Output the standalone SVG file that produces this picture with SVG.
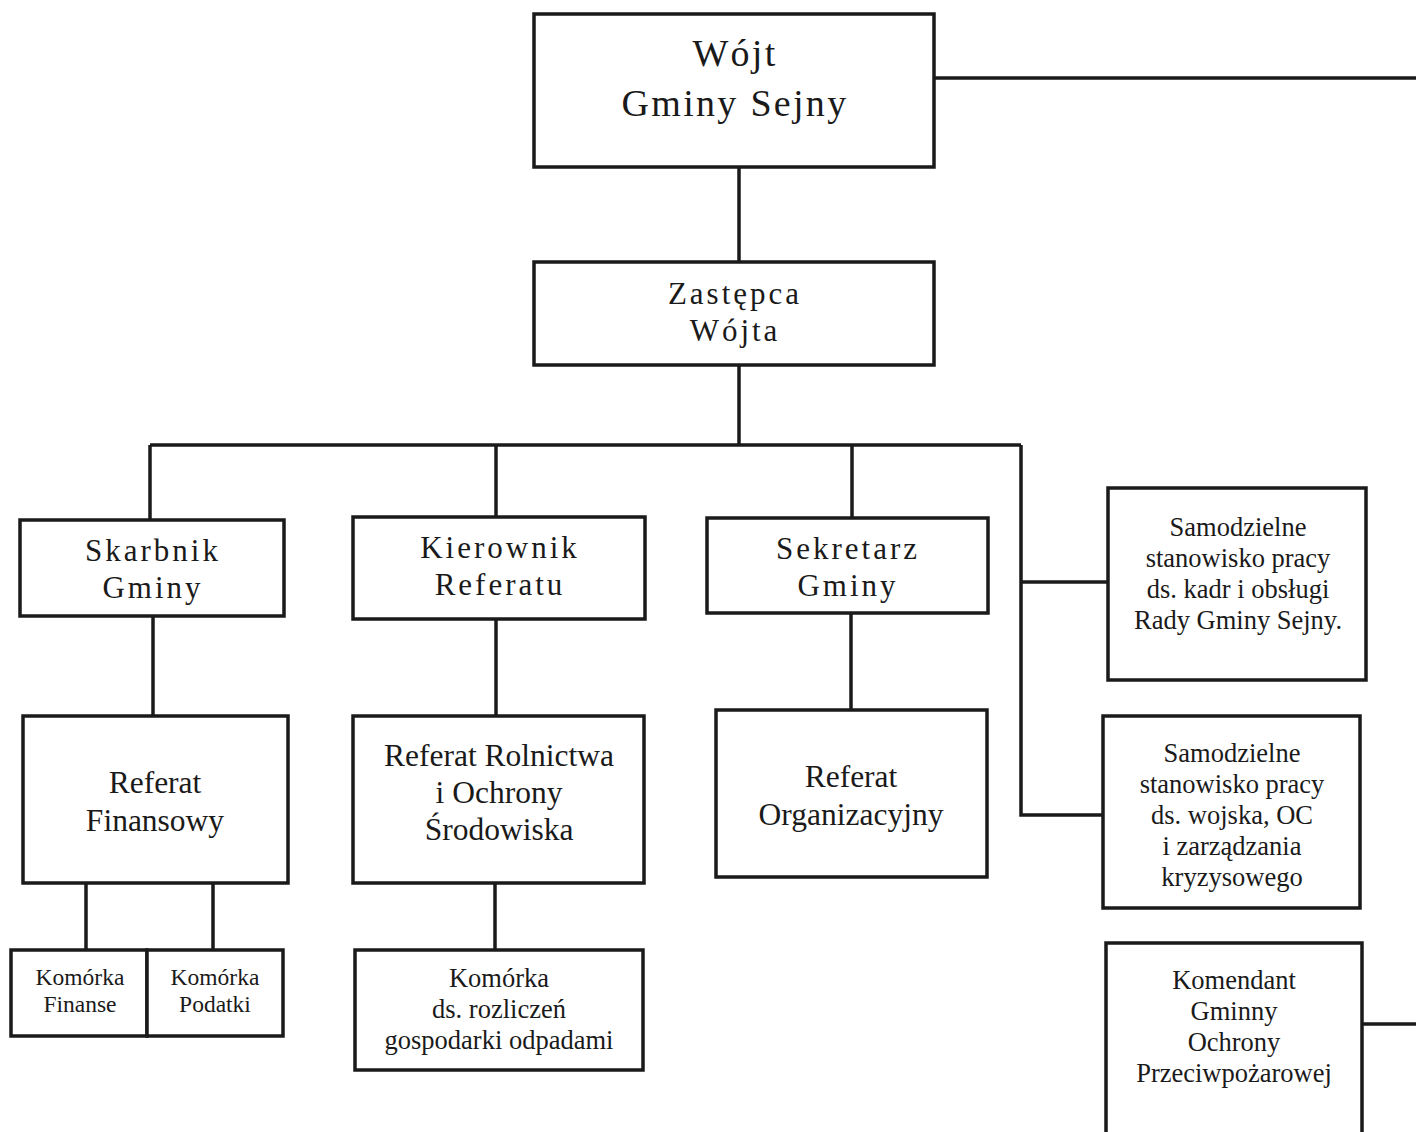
<svg xmlns="http://www.w3.org/2000/svg" width="1416" height="1132" viewBox="0 0 1416 1132">
<style>
.box{fill:#fff;stroke:#1a1a1a;stroke-width:3.5}
.ln{stroke:#1a1a1a;stroke-width:3.5;fill:none}
text{font-family:"Liberation Serif","Times New Roman",serif;fill:#1a1a1a;text-anchor:middle}
.big{font-size:38px;letter-spacing:2.3px}
.sp{font-size:31px;letter-spacing:3px}
.ref{font-size:31.5px}
.sm{font-size:26.5px}
.xs{font-size:23.5px}
</style>
<rect width="1416" height="1132" fill="#fff"/>
<g id="connectors">
<path class="ln" d="M934 78H1416"/>
<path class="ln" d="M739 167V262"/>
<path class="ln" d="M739 365V445"/>
<path class="ln" d="M150 445H1021"/>
<path class="ln" d="M150 445V520"/>
<path class="ln" d="M496 445V517"/>
<path class="ln" d="M852 445V518"/>
<path class="ln" d="M1021 445V815H1103"/>
<path class="ln" d="M1021 582H1108"/>
<path class="ln" d="M153 616V716"/>
<path class="ln" d="M496 619V716"/>
<path class="ln" d="M851 613V710"/>
<path class="ln" d="M86 883V950"/>
<path class="ln" d="M213 883V950"/>
<path class="ln" d="M495 883V950"/>
<path class="ln" d="M1362 1024H1416"/>
</g>
<g id="wojt">
<rect class="box" x="534" y="14" width="400" height="153"/>
<text class="big" x="735" y="66">Wójt</text>
<text class="big" x="735" y="116">Gminy Sejny</text>
</g>
<g id="zastepca">
<rect class="box" x="534" y="262" width="400" height="103"/>
<text class="sp" x="735" y="304">Zastępca</text>
<text class="sp" x="735" y="341">Wójta</text>
</g>
<g id="skarbnik">
<rect class="box" x="20" y="520" width="264" height="96"/>
<text class="sp" x="153" y="561">Skarbnik</text>
<text class="sp" x="153" y="598">Gminy</text>
</g>
<g id="kierownik">
<rect class="box" x="353" y="517" width="292" height="102"/>
<text class="sp" x="500" y="558">Kierownik</text>
<text class="sp" x="500" y="595">Referatu</text>
</g>
<g id="sekretarz">
<rect class="box" x="707" y="518" width="281" height="95"/>
<text class="sp" x="848" y="559">Sekretarz</text>
<text class="sp" x="848" y="596">Gminy</text>
</g>
<g id="stanowisko-kadr">
<rect class="box" x="1108" y="488" width="258" height="192"/>
<text class="sm" x="1238" y="536">Samodzielne</text>
<text class="sm" x="1238" y="567">stanowisko pracy</text>
<text class="sm" x="1238" y="598">ds. kadr i obsługi</text>
<text class="sm" x="1238" y="629">Rady Gminy Sejny.</text>
</g>
<g id="stanowisko-wojska">
<rect class="box" x="1103" y="716" width="257" height="192"/>
<text class="sm" x="1232" y="762">Samodzielne</text>
<text class="sm" x="1232" y="793">stanowisko pracy</text>
<text class="sm" x="1232" y="824">ds. wojska, OC</text>
<text class="sm" x="1232" y="855">i zarządzania</text>
<text class="sm" x="1232" y="886">kryzysowego</text>
</g>
<g id="komendant">
<rect class="box" x="1106" y="943" width="256" height="200"/>
<text class="sm" x="1234" y="989">Komendant</text>
<text class="sm" x="1234" y="1020">Gminny</text>
<text class="sm" x="1234" y="1051">Ochrony</text>
<text class="sm" x="1234" y="1082">Przeciwpożarowej</text>
</g>
<g id="referat-finansowy">
<rect class="box" x="23" y="716" width="265" height="167"/>
<text class="ref" x="155" y="793">Referat</text>
<text class="ref" x="155" y="831">Finansowy</text>
</g>
<g id="referat-rolnictwa">
<rect class="box" x="353" y="716" width="291" height="167"/>
<text class="ref" x="499" y="766">Referat Rolnictwa</text>
<text class="ref" x="499" y="803">i Ochrony</text>
<text class="ref" x="499" y="840">Środowiska</text>
</g>
<g id="referat-organizacyjny">
<rect class="box" x="716" y="710" width="271" height="167"/>
<text class="ref" x="851" y="787">Referat</text>
<text class="ref" x="851" y="825">Organizacyjny</text>
</g>
<g id="komorka-finanse">
<rect class="box" x="11" y="950" width="136" height="86"/>
<text class="xs" x="80" y="985">Komórka</text>
<text class="xs" x="80" y="1012">Finanse</text>
</g>
<g id="komorka-podatki">
<rect class="box" x="147" y="950" width="136" height="86"/>
<text class="xs" x="215" y="985">Komórka</text>
<text class="xs" x="215" y="1012">Podatki</text>
</g>
<g id="komorka-odpady">
<rect class="box" x="355" y="950" width="288" height="120"/>
<text class="sm" x="499" y="987">Komórka</text>
<text class="sm" x="499" y="1018">ds. rozliczeń</text>
<text class="sm" x="499" y="1049">gospodarki odpadami</text>
</g>
</svg>
